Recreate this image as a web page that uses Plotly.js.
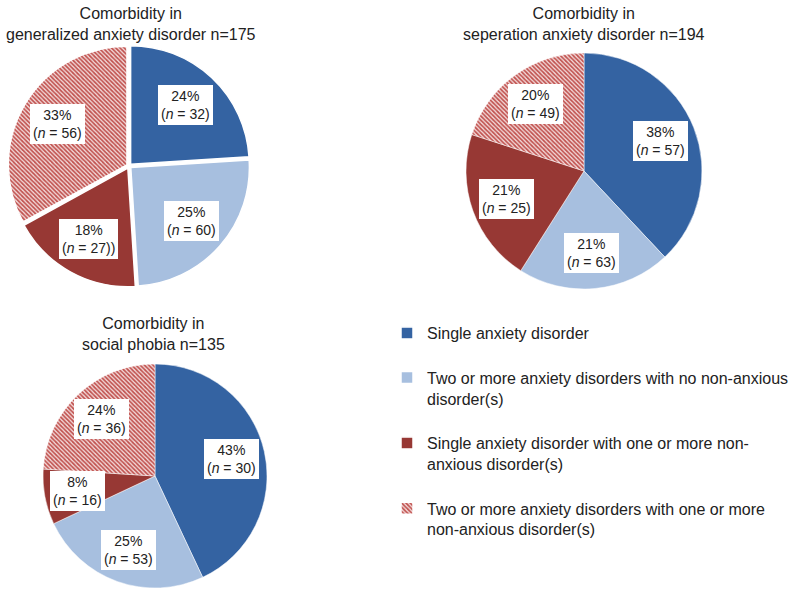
<!DOCTYPE html>
<html>
<head>
<meta charset="utf-8">
<script src="https://cdn.plot.ly/plotly-3.0.1.min.js"></script>
<style>html,body{margin:0;padding:0;background:#fff;}#chart{width:800px;height:596px;}</style>
</head>
<body>
<div id="chart"></div>
<script>
// ---- data ----
var categories = [
  "Single anxiety disorder<br>&nbsp;",
  "Two or more anxiety disorders with no non-anxious<br>disorder(s)<br>&nbsp;",
  "Single anxiety disorder with one or more non-<br>anxious disorder(s)<br>&nbsp;",
  "Two or more anxiety disorders with one or more<br>non-anxious disorder(s)"
];
var gadPercent = [24, 25, 18, 33];
var gadN = ["32", "60", "27)", "56"];
var sadPercent = [38, 21, 21, 20];
var sadN = ["57", "63", "25", "49"];
var spPercent = [43, 25, 8, 24];
var spN = ["30", "53", "16", "36"];
var titles = [
  "Comorbidity in<br>generalized anxiety disorder n=175",
  "Comorbidity in<br>seperation anxiety disorder n=194",
  "Comorbidity in<br>social phobia n=135"
];

// ---- style ----
var W = 800, H = 596;
var colors = ["#3463a2", "#a7bfdf", "#973834", "#d98886"];
var patterns = {shape: ["", "", "", "\\"], fgcolor: ["", "", "", "#c0504d"], bgcolor: ["", "", "", "#f3dada"], size: 3, solidity: 0.55, fillmode: "replace"};
var FONT = "Liberation Sans, Arial, sans-serif";

// pie boxes in pixels: [left, top, size]
var boxes = [[8, 45, 242], [466, 53, 236], [43, 364, 224]];
var pulls = [0.02, 0, 0];
var datasets = [[gadPercent, gadN], [sadPercent, sadN], [spPercent, spN]];
var titlePos = [[131, 24], [584, 24], [153, 334]];

var traces = [];
var annotations = [];
datasets.forEach(function (ds, k) {
  var b = boxes[k];
  traces.push({
    type: "pie",
    values: ds[0],
    labels: categories,
    sort: false,
    direction: "clockwise",
    rotation: 0,
    textinfo: "none",
    hoverinfo: "percent",
    pull: pulls[k],
    showlegend: k === 0,
    domain: {x: [b[0] / W, (b[0] + b[2]) / W], y: [1 - (b[1] + b[2]) / H, 1 - b[1] / H]},
    marker: {colors: colors, pattern: patterns, line: {color: "#ffffff", width: k === 0 ? 1.5 : 0.5}}
  });
  // label positions from data
  var total = ds[0].reduce(function (a, c) { return a + c; }, 0);
  var cx = b[0] + b[2] / 2, cy = b[1] + b[2] / 2, r = b[2] / 2 / (1 + pulls[k]);
  var cum = 0;
  ds[0].forEach(function (v, i) {
    var mid = (cum + v / 2) / total * 2 * Math.PI;
    cum += v;
    var d = r * 0.7;
    var px = cx + d * Math.sin(mid), py = cy - d * Math.cos(mid);
    annotations.push({
      xref: "paper", yref: "paper", x: px / W, y: 1 - py / H,
      xanchor: "center", yanchor: "middle", showarrow: false,
      text: v + "%<br>(<i>n</i> = " + ds[1][i] + ")",
      font: {family: FONT, size: 14, color: "#222"},
      bgcolor: "#ffffff", borderpad: 3, borderwidth: 0
    });
  });
  annotations.push({
    xref: "paper", yref: "paper", x: titlePos[k][0] / W, y: 1 - titlePos[k][1] / H,
    xanchor: "center", yanchor: "middle", showarrow: false,
    text: titles[k], font: {family: FONT, size: 16, color: "#222"}
  });
});

var layout = {
  width: W, height: H,
  margin: {l: 0, r: 0, t: 0, b: 0},
  paper_bgcolor: "#ffffff",
  showlegend: true,
  legend: {
    x: 387 / W, y: 1 - 316 / H, xanchor: "left", yanchor: "top",
    font: {family: FONT, size: 16, color: "#222"},
    valign: "top", itemclick: false, traceorder: "normal"
  },
  annotations: annotations
};

Plotly.newPlot("chart", traces, layout, {displayModeBar: false, staticPlot: true});
</script>
</body>
</html>
